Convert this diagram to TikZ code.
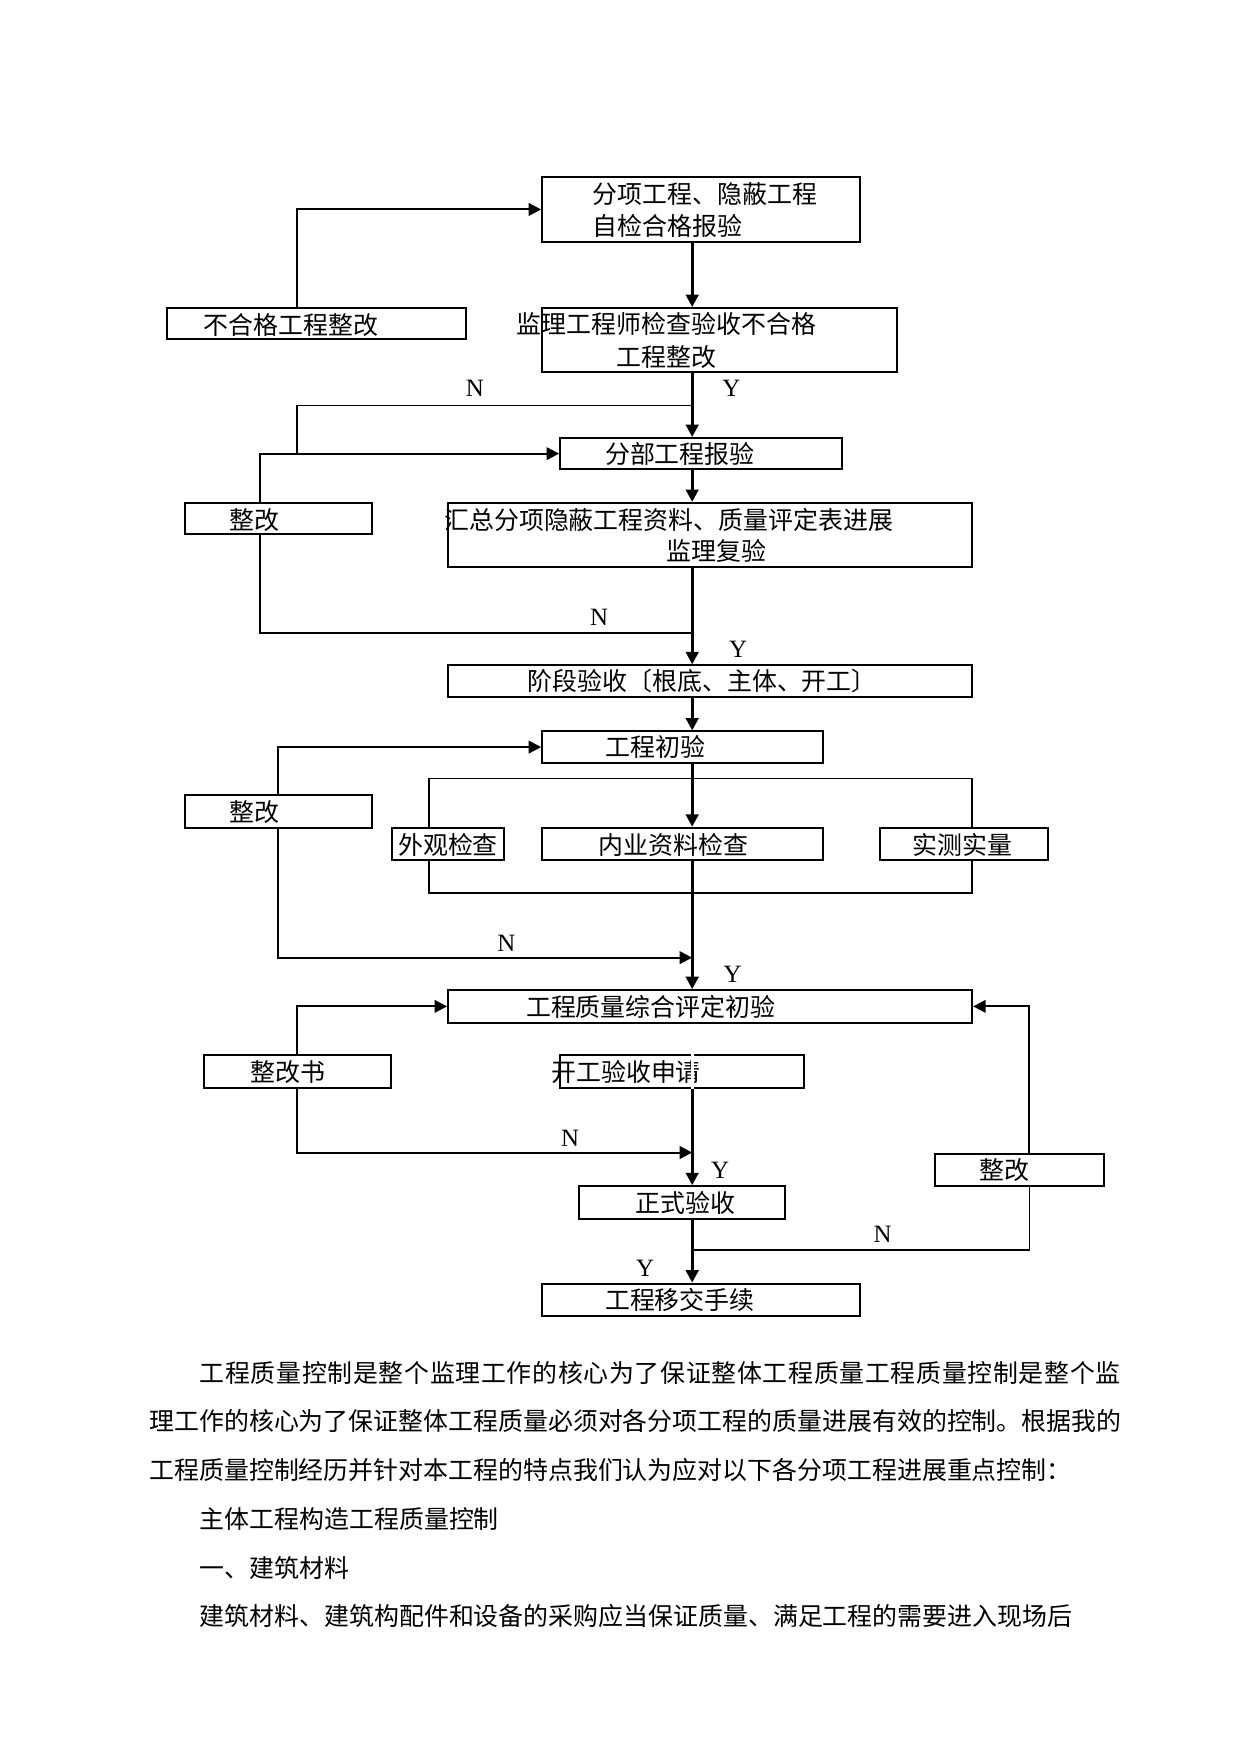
\documentclass[tikz,border=0pt]{standalone}
\usepackage{fontspec}
\setmainfont{Liberation Serif}
\newfontfamily\cjk{Noto Sans CJK SC}
\newfontfamily\cjkwide[LetterSpace=2.7]{Noto Sans CJK SC}
\usepackage{tikz}
\usetikzlibrary{arrows.meta, positioning, calc}

\def\u{0.018953cm}
% box from (x1,y1) to (x2,y2)
\newcommand{\flowbox}[5]{%
  \node[box, minimum width={(#4-#2)*\u}, minimum height={(#5-#3)*\u}] (#1) at ({(#2+#4)/2},{(#3+#5)/2}) {};}

\begin{document}
\begin{tikzpicture}[x=\u, y=-\u,
    box/.style={draw, line width=0.9pt, inner sep=0pt},
    txt/.style={font=\cjk\fontsize{12pt}{15.6pt}\selectfont, inner sep=0pt},
    yn/.style={font=\fontsize{12pt}{14pt}\selectfont, inner sep=0pt},
    main/.style={line width=1.6pt, -{Triangle[length=6pt,width=6pt]}},
    feed/.style={line width=1pt, -{Triangle[length=6pt,width=6pt]}},
    back/.style={line width=0.8pt}]
    \useasboundingbox (0,0) rectangle (1108,1566);

    % columns and turning points
    \coordinate (ax) at (618,0);
    \coordinate (c232) at (232,0);
    \coordinate (c265) at (265,0);
    \coordinate (c919) at (919,0);
    \coordinate (ftl) at (383,695);
    \coordinate (fbr) at (868,797);
    \coordinate (n1) at (618,362);
    \coordinate (n2) at (618,565);
    \coordinate (n3) at (618,855);
    \coordinate (n4) at (618,1029);
    \coordinate (n5) at (618,1116);

    % boxes
    \flowbox{fx}{484}{158}{768}{216}
    \flowbox{bhg}{149}{275}{416}{303}
    \flowbox{jl}{484}{275}{801}{332}
    \flowbox{fb}{500}{391}{752}{419}
    \flowbox{zg1}{165}{449}{332}{477}
    \flowbox{hz}{400}{449}{868}{506}
    \flowbox{jd}{400}{594}{868}{622}
    \flowbox{cy}{484}{653}{735}{681}
    \flowbox{zg2}{165}{710}{332}{739}
    \flowbox{wg}{350}{739}{450}{768}
    \flowbox{ny}{484}{739}{735}{768}
    \flowbox{sc}{786}{739}{936}{768}
    \flowbox{zh}{400}{884}{868}{913}
    \flowbox{zgs}{182}{942}{349}{971}
    \flowbox{kg}{500}{942}{718}{971}
    \flowbox{zs}{517}{1059}{701}{1088}
    \flowbox{zg3}{835}{1030}{986}{1059}
    \flowbox{yj}{484}{1146}{768}{1175}

    % box texts
    \node[txt, anchor=west, align=left] (fx-t) at (529,187.5) {分项工程、隐蔽工程\\自检合格报验};
    \node[txt] (bhg-t) at (260,290) {不合格工程整改};
    \node[txt, align=center] (jl-t) at (595,304) {监理工程师检查验收不合格\\工程整改};
    \node[txt] (fb-t) at (607,405) {分部工程报验};
    \node[txt] (zg1-t) at (227,464) {整改};
    \node[txt] (hz-a) at (597,464) {汇总分项隐蔽工程资料、质量评定表进展};
    \node[txt] (hz-b) at (640,492) {监理复验};
    \node[txt] (jd-t) at (627,608) {阶段验收〔根底、主体、开工〕};
    \node[txt] (cy-t) at (585,667) {工程初验};
    \node[txt] (zg2-t) at (227,725) {整改};
    \node[txt] (wg-t) at (400,754) {外观检查};
    \node[txt] (ny-t) at (601,754) {内业资料检查};
    \node[txt] (sc-t) at (859,754) {实测实量};
    \node[txt] (zh-t) at (581,899) {工程质量综合评定初验};
    \node[txt] (zgs-t) at (257,957) {整改书};
    \node[txt] (kg-t) at (559,957) {开工验收申请};
    \node[txt] (zs-t) at (612,1074) {正式验收};
    \node[txt] (zg3-t) at (897,1045) {整改};
    \node[txt] (yj-t) at (607,1161) {工程移交手续};

    % Y / N
    \node[yn] (n-a) at (424,347) {N};
    \node[yn] (y-a) at (653,347) {Y};
    \node[yn] (n-b) at (535,551) {N};
    \node[yn] (y-b) at (659,580) {Y};
    \node[yn] (n-c) at (452,842) {N};
    \node[yn] (y-c) at (654,870) {Y};
    \node[yn] (n-d) at (509,1016) {N};
    \node[yn] (y-d) at (643,1045) {Y};
    \node[yn] (n-e) at (788,1102) {N};
    \node[yn] (y-e) at (576,1132) {Y};

    % main line
    \draw[main] (fx.south -| ax) -- (jl.north -| ax);
    \draw[main] (jl.south -| ax) -- (fb.north -| ax);
    \draw[main] (fb.south -| ax) -- (hz.north -| ax);
    \draw[main] (hz.south -| ax) -- (jd.north -| ax);
    \draw[main] (jd.south -| ax) -- (cy.north -| ax);
    \draw[main] (cy.south -| ax) -- (ny.north -| ax);
    \draw[main] (ny.south -| ax) -- (zh.north -| ax);
    \draw[white, line width=1.6pt] (zh.south -| ax) -- (kg.south -| ax);
    \draw[main] (kg.south -| ax) -- (zs.north -| ax);
    \draw[main] (zs.south -| ax) -- (yj.north -| ax);

    % side loops
    \draw[feed] (bhg.north -| c265) |- (fx.west);
    \draw[back] (n1) -| (c265 |- fb.west);
    \draw[feed] (zg1.north -| c232) |- (fb.west);
    \draw[feed, -] (zg1.south -| c232) |- (n2);
    \draw[feed] (zg2.north) |- (cy.west);
    \draw[back] (wg.north -| ftl) -- (ftl) -- (ftl -| fbr) -- (sc.north -| fbr);
    \draw[back] (wg.south -| ftl) |- (fbr) -- (sc.south -| fbr);
    \draw[feed] (zg2.south) |- (n3);
    \draw[feed] (zgs.north -| c265) |- (zh.west);
    \draw[feed] (zgs.south -| c265) |- (n4);
    \draw[feed] (zg3.north -| c919) |- (zh.east);
    \draw[back] (zg3.south -| c919) |- (n5);

    % text below
    \node[txt, font=\cjkwide\fontsize{12pt}{15.6pt}\selectfont, anchor=west] (p1) at (178,1226) {工程质量控制是整个监理工作的核心为了保证整体工程质量工程质量控制是整个监};
    \node[txt, anchor=west] (p2) at (133,1269) {理工作的核心为了保证整体工程质量必须对各分项工程的质量进展有效的控制。根据我的};
    \node[txt, anchor=west] (p3) at (133,1312) {工程质量控制经历并针对本工程的特点我们认为应对以下各分项工程进展重点控制：};
    \node[txt, anchor=west] (p4) at (178,1356) {主体工程构造工程质量控制};
    \node[txt, anchor=west] (p5) at (178,1400) {一、建筑材料};
    \node[txt, anchor=west] (p6) at (178,1443) {建筑材料、建筑构配件和设备的采购应当保证质量、满足工程的需要进入现场后};
\end{tikzpicture}
\end{document}
